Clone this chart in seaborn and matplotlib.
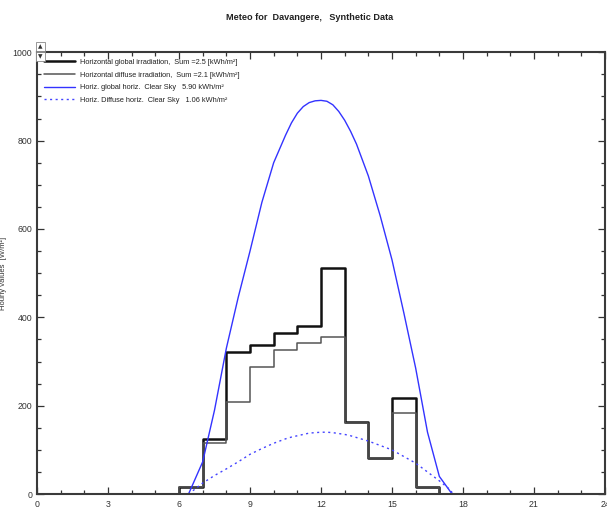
import numpy as np
import pandas as pd
import seaborn as sns
import matplotlib.pyplot as plt
from matplotlib.ticker import MultipleLocator

# hourly measured values (step, hour start), W/m2
hours = list(range(0, 25))
glob_h = [0, 0, 0, 0, 0, 0, 17, 124, 322, 337, 365, 380, 511, 162, 81, 217, 17,
          0, 0, 0, 0, 0, 0, 0, 0]
diff_h = [0, 0, 0, 0, 0, 0, 17, 115, 209, 287, 326, 341, 356, 160, 81, 183, 17,
          0, 0, 0, 0, 0, 0, 0, 0]

# clear sky curves
cs_t = [6.4, 6.5, 7.0, 7.5, 8.0, 8.5, 9.0, 9.5, 10.0, 10.5, 10.75, 11.0, 11.25,
        11.5, 11.75, 12.0, 12.25, 12.5, 12.75, 13.0, 13.25, 13.5, 14.0, 14.5,
        15.0, 15.5, 16.0, 16.5, 17.0, 17.5, 17.55]
cs_glob = [0, 12, 73, 190, 330, 445, 550, 660, 750, 812, 840, 862, 877,
           886, 890, 891, 889, 881, 866, 846, 821, 792, 720, 630,
           530, 410, 285, 140, 40, 3, 0]
cs_diff = [0, 4, 25, 42, 57, 73, 90, 103, 115, 125, 129, 132, 135,
           138, 139, 140, 140, 139, 137, 135, 132, 128, 120, 110,
           100, 85, 70, 50, 30, 8, 0]

labels = ["Horizontal global irradiation,  Sum =2.5 [kWh/m²]",
          "Horizontal diffuse irradiation,  Sum =2.1 [kWh/m²]",
          "Horiz. global horiz.  Clear Sky   5.90 kWh/m²",
          "Horiz. Diffuse horiz.  Clear Sky   1.06 kWh/m²"]

df_h = pd.DataFrame({"hour": hours, "glob": glob_h, "diff": diff_h})
df_cs = pd.DataFrame({"t": cs_t, "glob": cs_glob, "diff": cs_diff})

sns.set_style("ticks")
plt.rcParams['font.family'] = ['Liberation Sans Narrow', 'Liberation Sans', 'DejaVu Sans']

fig = plt.figure(figsize=(6.07, 5.12), dpi=100)
ax = fig.add_axes([0.061, 0.035, 0.9357, 0.863])

sns.lineplot(data=df_h, x="hour", y="glob", ax=ax, color="#111111", lw=1.8,
             drawstyle="steps-post", label=labels[0])
sns.lineplot(data=df_h, x="hour", y="diff", ax=ax, color="#555555", lw=1.1,
             drawstyle="steps-post", label=labels[1])
sns.lineplot(data=df_cs, x="t", y="glob", ax=ax, color="#3333ff", lw=1.0,
             label=labels[2])
sns.lineplot(data=df_cs, x="t", y="diff", ax=ax, color="#4444ff", lw=1.0,
             linestyle=(0, (1.5, 2.5)), label=labels[3])

ax.set_xlim(0, 24)
ax.set_ylim(0, 1000)
ax.xaxis.set_major_locator(MultipleLocator(3))
ax.xaxis.set_minor_locator(MultipleLocator(1))
ax.yaxis.set_major_locator(MultipleLocator(200))
ax.yaxis.set_minor_locator(MultipleLocator(50))
ax.tick_params(which="both", direction="in", top=True, right=True,
               labelsize=6.3, colors="#333333", width=0.9)
ax.tick_params(which="major", length=5)
ax.tick_params(which="minor", length=3)
ax.tick_params(axis="x", pad=4)
for s in ax.spines.values():
    s.set_linewidth(1.5)
    s.set_color("#3a3a3a")

ax.set_ylabel("Hourly values  [W/m²]", fontsize=5.5, color="#333333")
ax.yaxis.set_label_coords(-0.052, 0.5)
ax.set_xlabel("Hours", fontsize=5.5, color="#333333", labelpad=4)

leg = ax.legend(loc="upper left", frameon=False, fontsize=5.3,
                handlelength=4.2, borderaxespad=0.5, labelspacing=0.75,
                handletextpad=0.8)
for t in leg.get_texts():
    t.set_color("#222222")

# small scroll buttons at the top-left corner
for yy, sym in [(0.909, "▲"), (0.890, "▼")]:
    fig.text(0.067, yy, sym, ha="center", va="center", fontsize=4.2,
             family="DejaVu Sans", color="#333333",
             bbox=dict(boxstyle="square,pad=0.35", fc="white", ec="#888888", lw=0.6))

fig.text(0.51, 0.966, "Meteo for  Davangere,   Synthetic Data", ha="center",
         va="center", fontsize=6.6, fontweight="bold", color="#222222")

fig.savefig("out.png", dpi=100)
